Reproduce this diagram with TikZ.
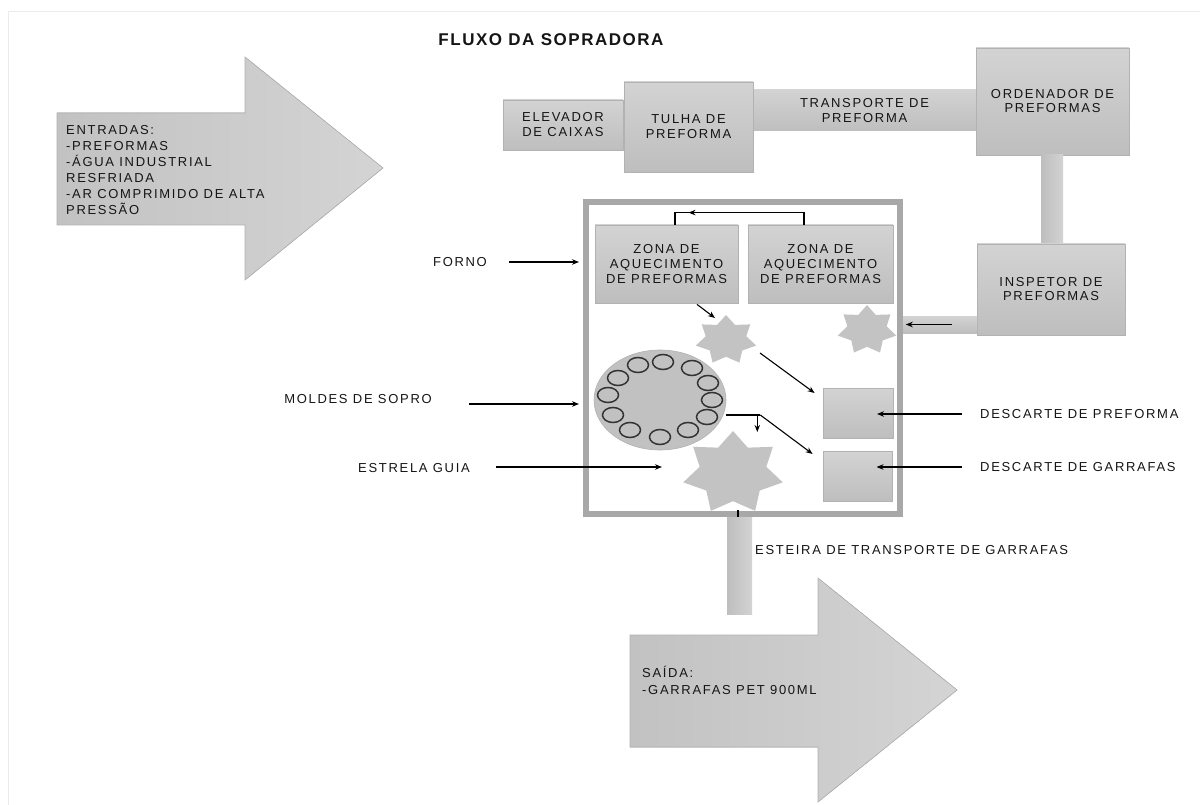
\documentclass[tikz,border=0pt]{standalone}
\usepackage{fontspec}
\setmainfont{Liberation Sans}[LetterSpace=13]
\newfontfamily\titlefont{Liberation Sans}[LetterSpace=9]
\usetikzlibrary{arrows.meta,shapes.geometric}
\definecolor{boxtop}{HTML}{D3D3D3}
\definecolor{boxbot}{HTML}{BEBEBE}
\definecolor{boxline}{HTML}{B2B2B2}
\definecolor{framec}{HTML}{A8A8A8}
\definecolor{starfill}{HTML}{C3C3C3}
\definecolor{arrL}{HTML}{C2C2C2}
\definecolor{arrR}{HTML}{D4D4D4}
\definecolor{txt}{HTML}{151515}
\newcommand\septastar[5]{%
  \coordinate (#1) at (#2,#3);
  \fill[starfill] (#2,{#3-#5}) \foreach \i in {1,...,13}{ -- ({#2+(0.835+0.165*cos(\i*180))*#4*cos(-90+\i*180/7)},{#3+(0.835+0.165*cos(\i*180))*#5*sin(-90+\i*180/7)}) } -- cycle;}
\begin{document}
\begin{tikzpicture}[x=1pt,y=-1pt,
  every node/.style={font=\fontsize{13}{15}\selectfont, inner sep=0pt, text=txt},
  box/.style={draw=boxline, line width=0.8pt, top color=boxtop, bottom color=boxbot, align=center},
  vbarst/.style={draw=none, left color=boxbot, right color=boxtop},
  hbarst/.style={draw=none, top color=boxtop, bottom color=boxbot, align=center},
  bigarrow/.style={draw=boxline, line width=0.6pt, left color=arrL, right color=arrR},
  conn/.style={draw=black, line width=1.1pt, -{Stealth[length=7pt,width=5.5pt]}},
  plain/.style={draw=black, line width=1.1pt}
]
\useasboundingbox (0,0) rectangle (1200,805);
\fill[white] (0,0) rectangle (1200,805);
\draw[black!8, line width=0.8pt] (8,805) -- (8,11) -- (1200,11);

% title
\node[font=\titlefont\bfseries\fontsize{17}{19}\selectfont] (title) at (551,40) {FLUXO DA SOPRADORA};

% input arrow
\filldraw[bigarrow] (57,113) -- (245,113) -- (245,57) -- (383,168) -- (245,280) -- (245,225) -- (57,225) -- cycle;
\node[anchor=north west, align=left, font=\fontsize{13}{16}\selectfont] (entradas) at (66,125)
  {ENTRADAS:\\-PREFORMAS\\-ÁGUA INDUSTRIAL\\RESFRIADA\\-AR COMPRIMIDO DE ALTA\\PRESSÃO};

% top chain
\node[box, minimum width=120pt, minimum height=50pt] (elev) at (563,125) {ELEVADOR\\DE CAIXAS};
\node[hbarst, minimum width=223pt, minimum height=41pt] (trans) at (864.5,110.5) {TRANSPORTE DE\\PREFORMA};
\node[box, minimum width=129pt, minimum height=90pt] (tulha) at (688.5,127) {TULHA DE\\PREFORMA};
\node[box, minimum width=153pt, minimum height=107pt, font=\fontsize{13}{14}\selectfont] (orden) at (1052.5,101.5) {ORDENADOR DE\\PREFORMAS};
\node[vbarst, minimum width=22pt, minimum height=89pt] (vbar) at (1052,199.5) {};
\node[box, minimum width=148pt, minimum height=91pt, font=\fontsize{13}{14}\selectfont] (insp) at (1051,289.5) {INSPETOR DE\\PREFORMAS};
\node[hbarst, minimum width=74pt, minimum height=17pt] (ibar) at (940,324.5) {};
\draw[conn] ([xshift=-25pt]ibar.east) -- ([xshift=3pt]ibar.west);

% main frame
\node[draw=framec, line width=6pt, minimum width=314pt, minimum height=312pt] (frame) at (743,358) {};
\node[box, minimum width=143pt, minimum height=78pt] (z1) at (666.5,264) {ZONA DE\\AQUECIMENTO\\DE PREFORMAS};
\node[box, minimum width=145pt, minimum height=78pt] (z2) at (820.5,264) {ZONA DE\\AQUECIMENTO\\DE PREFORMAS};
\draw[plain] ([xshift=-16.5pt]z2.north) -- ++(0,-12) -| ([xshift=8.5pt]z1.north);
\draw[conn] ([xshift=-60pt,yshift=12pt]z2.north) -- ([xshift=22pt,yshift=12pt]z1.north);

% stars
\septastar{s1}{726}{340}{31}{25}
\septastar{s2}{867}{330}{30}{25}
\septastar{s3}{733}{473}{51}{42}

% molds
\node[draw=boxline, line width=0.6pt, fill=boxbot!85!boxtop, shape=ellipse, minimum width=132pt, minimum height=100pt] (mold) at (660,400) {};
\foreach \p in {(663,362),(638,365),(618,378),(608,395),(613,415),(630,430),(660,437),(688,430),(707,417),(712,400),(708,383),(692,368)}
  \draw[black!80, line width=1.5pt, fill=boxbot!85!boxtop] \p ellipse [x radius=10.5, y radius=7.5];

% discard boxes
\node[box, minimum width=70pt, minimum height=50pt] (dp) at (858,413) {};
\node[box, minimum width=69pt, minimum height=50pt] (dg) at (857.5,476) {};

% internal connectors
\draw[conn] ([xshift=30.5pt,yshift=-1pt]z1.south) -- ([xshift=-11pt,yshift=22pt]s1);
\draw[conn] ([xshift=34pt,yshift=-13pt]s1) -- ([xshift=-8pt,yshift=20pt]dp.west);
\coordinate (jn) at ([xshift=34pt,yshift=-15pt]mold.east);
\draw[plain] ([yshift=-15pt]mold.east) -- (jn);
\draw[conn] ([xshift=-3pt]jn) -- ++(0,17);
\draw[conn] (jn) -- ([xshift=-10pt,yshift=22pt]dg.west);

% labels left
\node (forno) at (460,262) {FORNO};
\draw[conn] ([xshift=22pt]forno.east) -- ([xshift=-4pt]forno.east -| frame.west);
\node (moldes) at (358,399) {MOLDES DE SOPRO};
\draw[conn] ([xshift=37pt,yshift=-5pt]moldes.east) -- ([xshift=-4pt,yshift=-5pt]moldes.east -| frame.west);
\node (estrela) at (414,468) {ESTRELA GUIA};
\coordinate (sgtip) at (662,467);
\draw[conn] ([xshift=26pt,yshift=1pt]estrela.east) -- (sgtip);

% labels right
\node[anchor=west] (dplab) at (980,414) {DESCARTE DE PREFORMA};
\node[anchor=west] (dglab) at (980,467) {DESCARTE DE GARRAFAS};
\draw[conn] ([xshift=-18pt]dplab.west) -- ([xshift=19pt]dplab.west -| dp.center);
\draw[conn] ([xshift=-18pt]dglab.west) -- ([xshift=19pt]dglab.west -| dg.center);

% output
\draw[conn] ([xshift=-5pt,yshift=7pt]frame.south) -- ([xshift=-5pt,yshift=-9pt]frame.south);
\node[vbarst, minimum width=25pt, minimum height=97pt] (obar) at (739.5,565.5) {};
\node[anchor=west] (esteira) at (755,550) {ESTEIRA DE TRANSPORTE DE GARRAFAS};
\filldraw[bigarrow] (630,635) -- (818,635) -- (818,578) -- (957,690) -- (818,802) -- (818,747) -- (630,747) -- cycle;
\node[anchor=north west, align=left, font=\fontsize{13}{17}\selectfont] (saida) at (642,666) {SAÍDA:\\-GARRAFAS PET 900ML};
\end{tikzpicture}
\end{document}
